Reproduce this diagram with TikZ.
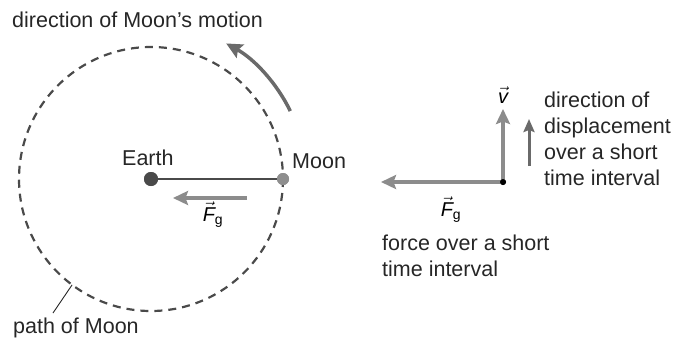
\documentclass[tikz,border=0pt]{standalone}
\usepackage{amsmath}
\usepackage{fontspec}
\setmainfont{Liberation Sans}
\usepackage{xcolor}
\usetikzlibrary{arrows.meta,
positioning,
calc}

\definecolor{orbitgray}{HTML}{4A4A4A}
\definecolor{arrowgray}{HTML}{8C8C8C}
\definecolor{darkarrow}{HTML}{6A6A6A}
\definecolor{moongray}{HTML}{8E8E8E}

\newcommand{\vecsym}[1]{$\vec{\text{\itshape #1}}$}

\begin{document}
\begin{tikzpicture}[
				x=1pt, y=-1pt,
				labeltext/.style={
					font=\fontsize{21.5}{26}\selectfont,
					inner sep=0pt,
					text=black!85
				},
				symtext/.style={
					font=\fontsize{20}{24}\selectfont,
					inner sep=0pt
				},
				force/.style={
					draw=arrowgray,
					line width=3.5pt,
					-{Stealth[length=15pt,width=14pt,inset=2.5pt]}
				},
				motion/.style={
					draw=darkarrow,
					line width=3.5pt,
					-{Stealth[length=16pt,width=15pt,inset=2.5pt]}
				},
				body/.style={
					circle,
					inner sep=0pt
				}
				]
				\useasboundingbox (0,0) rectangle (674,343);
				
				% orbit around the Earth
				\coordinate (c) at (151,179);
				\draw[orbitgray, line width=2.2pt, dash pattern=on 8pt off 6pt] (c) circle[radius=132];
				\node[body, fill=orbitgray, minimum size=14pt] (earth) at (c) {};
				\node[body, fill=moongray, minimum size=12pt] (moon) at (283,179) {};
				\draw[orbitgray, line width=1.3pt] (earth) -- (moon);
				\node[body, fill=orbitgray, minimum size=14pt] at (earth) {};
				\node[body, fill=moongray, minimum size=12pt] at (moon) {};
				
				% direction of motion
				\draw[motion] (c) ++(-26:155) arc[start angle=-26, end angle=-61, radius=155];
				
				% force on the Moon
				\coordinate (fgtail) at (247,198);
				\coordinate (fghead) at (173,198);
				\draw[force] (fgtail) -- (fghead);
				\node[symtext] (fgleft) at (213,215) {\vecsym{F}${}_{\text{g}}$};
				
				% labels
				\node[labeltext, anchor=base west] (motionlbl) at (12,27) {direction of Moon’s motion};
				\node[labeltext, anchor=base west] (earthlbl) at (122,165) {Earth};
				\node[labeltext, anchor=base west] (moonlbl) at (292,168) {Moon};
				\node[labeltext, anchor=base west] (pathlbl) at (13,333) {path of Moon};
				\coordinate (leaderfoot) at (53,313);
				\draw[black!85, line width=0.9pt] (leaderfoot) -- ($(c)+(126.7:132)$);
				
				% vectors over a short time interval
				\node[body, fill=black, minimum size=6pt] (tail) at (503,182) {};
				\coordinate (ftip) at (381,182);
				\coordinate (vtip) at (503,109);
				\draw[force] (tail.center) -- (ftip);
				\draw[force] (tail.center) -- (vtip);
				\node[body, fill=black, minimum size=6pt] at (tail) {};
				\node[symtext] (vlbl) at (503,95) {\vecsym{v}};
				\node[symtext] (fgright) at (451,210) {\vecsym{F}${}_{\text{g}}$};
				
				\coordinate (dispbase) at (529,166);
				\coordinate (disptip) at (529,119);
				\draw[darkarrow, line width=3pt, -{Stealth[length=13pt,width=11pt,inset=2pt]}] (dispbase) -- (disptip);
				
				\node[labeltext, align=left, anchor=north west] (displbl) at (544,92) {direction of\\displacement\\over a short\\time interval};
				\node[labeltext, align=left, anchor=north west] (forcelbl) at (382,235) {force over a short\\time interval};
			\end{tikzpicture}
\end{document}
